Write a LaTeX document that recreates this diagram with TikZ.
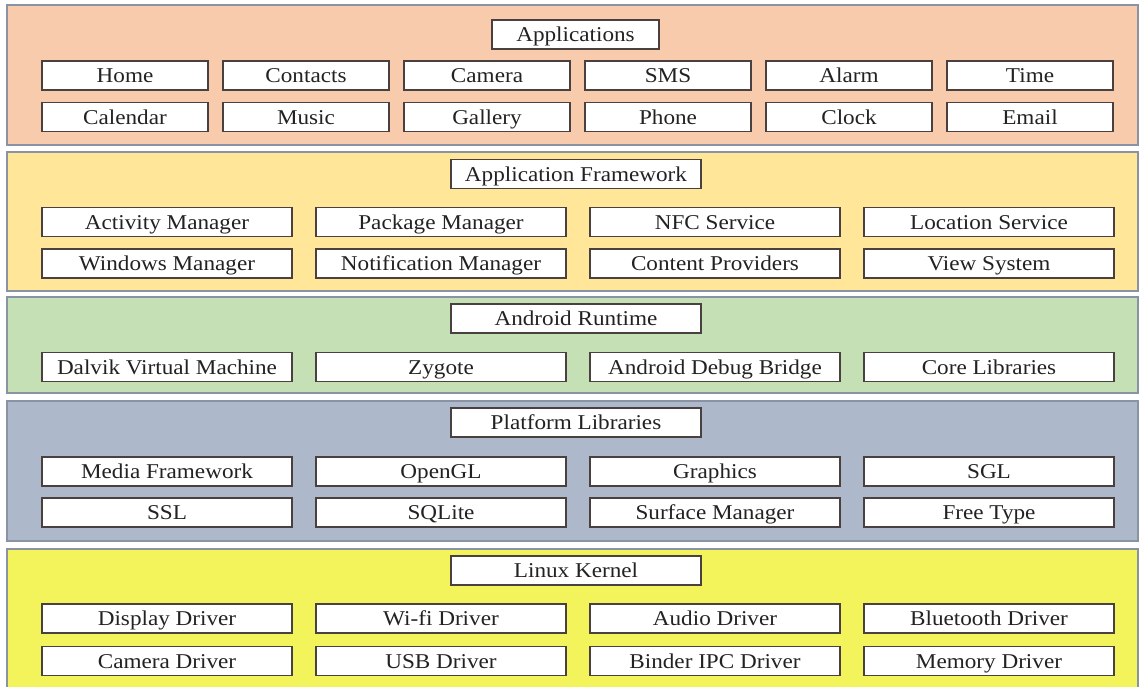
\documentclass[tikz,border=0pt]{standalone}
\usepackage{fontspec}
\setmainfont{Liberation Serif}[FakeStretch=1.1]
\usepackage{tikz}
\definecolor{appcol}{HTML}{F8CBAD}
\definecolor{fwcol}{HTML}{FFE699}
\definecolor{rtcol}{HTML}{C5E0B4}
\definecolor{libcol}{HTML}{ADB9CA}
\definecolor{kercol}{HTML}{F3F35C}
\definecolor{layerline}{HTML}{8A93A3}
\definecolor{boxline}{HTML}{4A4040}
\definecolor{txtcol}{HTML}{222222}
\tikzset{
  layer/.style={draw=layerline,line width=1pt},
  item/.style={draw=boxline,fill=white,line width=1.1pt,inner sep=0pt,
    minimum height=21.75pt,text height=10.8pt,text depth=0pt,text=txtcol,
    font=\fontsize{15.8}{18}\selectfont},
  smallitem/.style={item,minimum width=124.5pt},
  wideitem/.style={item,minimum width=187.5pt},
  titlebox/.style={item,minimum width=187.5pt},
}
\begin{document}
\begin{tikzpicture}[x=0.75pt,y=0.75pt,yscale=-1,xscale=1]
\useasboundingbox (0,0) rectangle (1139,686);

%Shape: Rectangle [Applications layer]
\draw[layer,fill=appcol] (7,5) rectangle (1138,145) ;
%Shape: Rectangle [Framework layer]
\draw[layer,fill=fwcol] (7,152) rectangle (1138,291) ;
%Shape: Rectangle [Runtime layer]
\draw[layer,fill=rtcol] (7,297) rectangle (1138,393) ;
%Shape: Rectangle [Libraries layer]
\draw[layer,fill=libcol] (7,401) rectangle (1138,541) ;
%Shape: Rectangle [Kernel layer]
\draw[layer,fill=kercol] (7,549) rectangle (1138,692) ;

% Title Nodes
\node[titlebox,minimum width=125.25pt] (apps) at (575.5,34.5) {Applications};
\node[titlebox] (framework) at (576,174) {Application Framework};
\node[titlebox] (runtime) at (576,318.5) {Android Runtime};
\node[titlebox] (libs) at (576,422.5) {Platform Libraries};
\node[titlebox] (kernel) at (576,570.5) {Linux Kernel};

% Applications
\foreach \n/\t [count=\i] in {home/Home,contacts/Contacts,camera/Camera,sms/SMS,alarm/Alarm,time/Time}
  \node[smallitem] (\n) at ({125+181*(\i-1)},75.5) {\t};
\foreach \n/\t [count=\i] in {calendar/Calendar,music/Music,gallery/Gallery,phone/Phone,clock/Clock,email/Email}
  \node[smallitem] (\n) at ({125+181*(\i-1)},117) {\t};

% Application Framework
\foreach \n/\t [count=\i] in {actmgr/Activity Manager,pkgmgr/Package Manager,nfc/NFC Service,location/Location Service}
  \node[wideitem] (\n) at ({167+274*(\i-1)},222) {\t};
\foreach \n/\t [count=\i] in {winmgr/Windows Manager,notifmgr/Notification Manager,providers/Content Providers,viewsys/View System}
  \node[wideitem] (\n) at ({167+274*(\i-1)},263.5) {\t};

% Android Runtime
\foreach \n/\t [count=\i] in {dalvik/Dalvik Virtual Machine,zygote/Zygote,adb/Android Debug Bridge,corelibs/Core Libraries}
  \node[wideitem] (\n) at ({167+274*(\i-1)},367) {\t};

% Platform Libraries
\foreach \n/\t [count=\i] in {media/Media Framework,opengl/OpenGL,graphics/Graphics,sgl/SGL}
  \node[wideitem] (\n) at ({167+274*(\i-1)},471.5) {\t};
\foreach \n/\t [count=\i] in {ssl/SSL,sqlite/SQLite,surface/Surface Manager,freetype/Free Type}
  \node[wideitem] (\n) at ({167+274*(\i-1)},512.5) {\t};

% Linux Kernel
\foreach \n/\t [count=\i] in {display/Display Driver,wifi/Wi-fi Driver,audio/Audio Driver,bluetooth/Bluetooth Driver}
  \node[wideitem] (\n) at ({167+274*(\i-1)},618.5) {\t};
\foreach \n/\t [count=\i] in {camdrv/Camera Driver,usb/USB Driver,binder/Binder IPC Driver,memory/Memory Driver}
  \node[wideitem] (\n) at ({167+274*(\i-1)},661) {\t};

\end{tikzpicture}
\end{document}
